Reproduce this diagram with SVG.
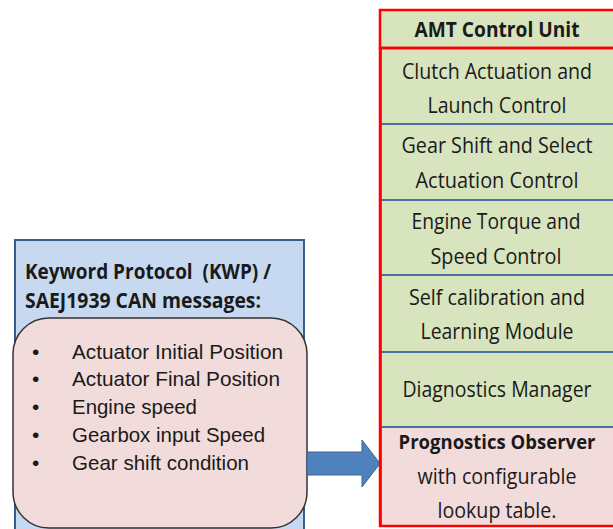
<svg xmlns="http://www.w3.org/2000/svg" width="613" height="529" viewBox="0 0 613 529">
  <style>
    .cell { fill: #d7e4bd; stroke: #4a6fa0; stroke-width: 2; }
    .pink { fill: #f2dcdb; }
    .cal { font-family: "Open Sans", "Noto Sans", sans-serif; font-size: 21px; fill: #1a1a1a; text-anchor: middle; }
    .b { font-weight: bold; }
    .list { font-family: "Liberation Sans", Arial, sans-serif; font-size: 21px; fill: #1a1a1a; }
  </style>
  <rect width="613" height="529" fill="#ffffff"/>

  <!-- input message block -->
  <g id="can-messages">
    <rect x="15" y="240" width="289" height="295" fill="#c6d9f1" stroke="#385d8a" stroke-width="2"/>
    <text class="cal b" x="25" y="279" style="text-anchor:start" textLength="246" lengthAdjust="spacingAndGlyphs">Keyword Protocol&#160; (KWP) /</text>
    <text class="cal b" x="25" y="308" style="text-anchor:start" textLength="236" lengthAdjust="spacingAndGlyphs">SAEJ1939 CAN messages:</text>
    <rect x="13" y="318" width="294" height="210" rx="36" ry="36" fill="#f2dcdb" stroke="#333333" stroke-width="1.5"/>
    <g class="list">
      <text x="32" y="359">•</text><text x="72" y="359" textLength="211" lengthAdjust="spacingAndGlyphs">Actuator Initial Position</text>
      <text x="32" y="386">•</text><text x="72" y="386" textLength="208" lengthAdjust="spacingAndGlyphs">Actuator Final Position</text>
      <text x="32" y="414">•</text><text x="72" y="414" textLength="125" lengthAdjust="spacingAndGlyphs">Engine speed</text>
      <text x="32" y="442">•</text><text x="72" y="442" textLength="193" lengthAdjust="spacingAndGlyphs">Gearbox input Speed</text>
      <text x="32" y="470">•</text><text x="72" y="470" textLength="177" lengthAdjust="spacingAndGlyphs">Gear shift condition</text>
    </g>
  </g>

  <!-- connectors -->
  <g id="connectors">
    <path d="M307,452 H362 V440 L380,463.5 L362,487 V475 H307 Z" fill="#4f81bd" stroke="#3b6496" stroke-width="1"/>
  </g>

  <!-- control unit column (right edge runs past the canvas) -->
  <g id="amt-control-unit">
    <rect x="381" y="48" width="234" height="76" class="cell"/>
    <rect x="381" y="124" width="234" height="76" class="cell"/>
    <rect x="381" y="200" width="234" height="75" class="cell"/>
    <rect x="381" y="275" width="234" height="77" class="cell"/>
    <rect x="381" y="352" width="234" height="75" class="cell"/>
    <rect x="381" y="427" width="234" height="99" class="cell pink"/>
    <rect x="380" y="10" width="236" height="38" fill="#d7e4bd" stroke="#ff0000" stroke-width="2.5"/>
    <rect x="380" y="48" width="236" height="478" fill="none" stroke="#ff0000" stroke-width="2.5"/>

    <text class="cal b" x="497" y="37" textLength="165" lengthAdjust="spacingAndGlyphs">AMT Control Unit</text>
    <text class="cal" x="497" y="79" textLength="190" lengthAdjust="spacingAndGlyphs">Clutch Actuation and</text>
    <text class="cal" x="497" y="113" textLength="139" lengthAdjust="spacingAndGlyphs">Launch Control</text>
    <text class="cal" x="497" y="153" textLength="191" lengthAdjust="spacingAndGlyphs">Gear Shift and Select</text>
    <text class="cal" x="497" y="188" textLength="163" lengthAdjust="spacingAndGlyphs">Actuation Control</text>
    <text class="cal" x="496" y="229" textLength="169" lengthAdjust="spacingAndGlyphs">Engine Torque and</text>
    <text class="cal" x="496" y="264" textLength="131" lengthAdjust="spacingAndGlyphs">Speed Control</text>
    <text class="cal" x="497" y="305" textLength="176" lengthAdjust="spacingAndGlyphs">Self calibration and</text>
    <text class="cal" x="497" y="339" textLength="153" lengthAdjust="spacingAndGlyphs">Learning Module</text>
    <text class="cal" x="497" y="397" textLength="189" lengthAdjust="spacingAndGlyphs">Diagnostics Manager</text>
    <text class="cal b" x="497" y="449" style="font-size:20px" textLength="197" lengthAdjust="spacingAndGlyphs">Prognostics Observer</text>
    <text class="cal" x="497" y="484" textLength="159" lengthAdjust="spacingAndGlyphs">with configurable</text>
    <text class="cal" x="497" y="518" textLength="119" lengthAdjust="spacingAndGlyphs">lookup table.</text>
  </g>
</svg>
